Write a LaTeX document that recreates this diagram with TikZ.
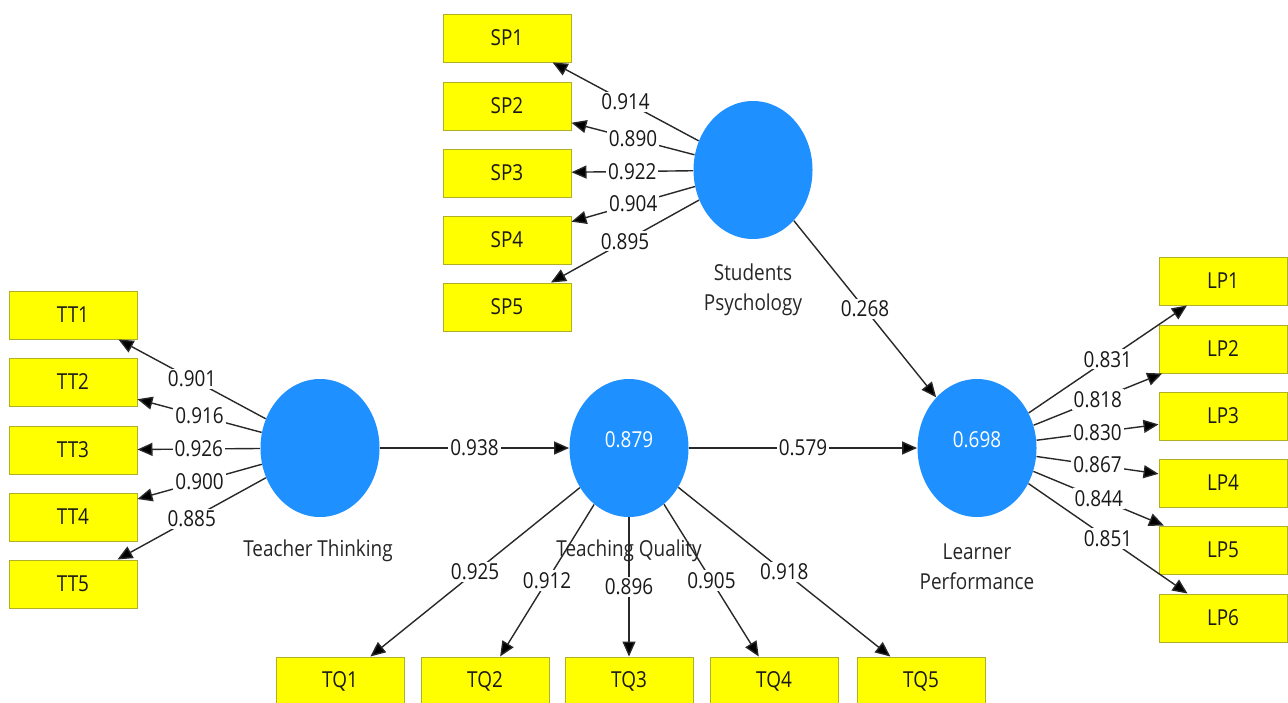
\documentclass[tikz,border=0pt]{standalone}
\usepackage{fontspec}
\setmainfont{Open Sans}[FakeStretch=0.86]
\usetikzlibrary{arrows.meta,shapes.geometric}

\definecolor{lvblue}{RGB}{30,144,255}
\definecolor{mvyellow}{RGB}{255,255,0}
\definecolor{mvedge}{RGB}{175,175,40}
\definecolor{pathgray}{RGB}{40,40,40}

\begin{document}
\begin{tikzpicture}[x=0.5pt, y=-0.5pt,
  lv/.style={ellipse, fill=lvblue, minimum width=59.5pt, minimum height=69pt, inner sep=0pt},
  mv/.style={rectangle, draw=mvedge, fill=mvyellow, line width=0.5pt,
    minimum width=64pt, minimum height=24pt, inner sep=0pt,
    text=black!90, font=\fontsize{11}{13}\selectfont},
  ld/.style={draw=pathgray, line width=0.7pt, -{Triangle[length=7.5pt,width=6.5pt,fill=black]}},
  wt/.style={midway, fill=white, inner sep=1pt, text=black!90, font=\fontsize{11}{13}\selectfont},
  lvname/.style={align=center, text=black!85, font=\fontsize{11}{15}\selectfont},
  rsq/.style={text=white, font=\fontsize{11}{13}\selectfont}]

  % 画布：1288 x 702 像素
  \fill[white] (0,0) rectangle (1288,702);
  \useasboundingbox (0,0) rectangle (1288,702);

  % 潜变量
  \node[lv] (TT) at (320, 448) {};
  \node[lv] (TQ) at (629, 448) {};
  \node[lv] (LP) at (977, 448) {};
  \node[lv] (SP) at (753, 170) {};

  \node[rsq] (TQr) at (629, 440) {0.879};
  \node[rsq] (LPr) at (977, 440) {0.698};

  \node[lvname] (TTname) at (318, 551) {Teacher Thinking};
  \node[lvname] (TQname) at (629, 551) {Teaching Quality};
  \node[lvname] (LPname) at (977, 567) {Learner\\Performance};
  \node[lvname] (SPname) at (753, 290) {Students\\Psychology};

  % 指标
  \node[mv] (SP1) at (507, 38)  {SP1};
  \node[mv] (SP2) at (507, 106) {SP2};
  \node[mv] (SP3) at (507, 173) {SP3};
  \node[mv] (SP4) at (507, 240) {SP4};
  \node[mv] (SP5) at (507, 307) {SP5};

  \node[mv] (TT1) at (73, 315) {TT1};
  \node[mv] (TT2) at (73, 382) {TT2};
  \node[mv] (TT3) at (73, 450) {TT3};
  \node[mv] (TT4) at (73, 517) {TT4};
  \node[mv] (TT5) at (73, 584) {TT5};

  \node[mv] (LP1) at (1223, 281) {LP1};
  \node[mv] (LP2) at (1223, 349) {LP2};
  \node[mv] (LP3) at (1223, 416) {LP3};
  \node[mv] (LP4) at (1223, 483) {LP4};
  \node[mv] (LP5) at (1223, 550) {LP5};
  \node[mv] (LP6) at (1223, 618) {LP6};

  \node[mv] (TQ1) at (340, 681) {TQ1};
  \node[mv] (TQ2) at (485, 681) {TQ2};
  \node[mv] (TQ3) at (629, 681) {TQ3};
  \node[mv] (TQ4) at (774, 681) {TQ4};
  \node[mv] (TQ5) at (921, 681) {TQ5};

  % 载荷
  \draw[ld] (SP) -- node[wt] {0.914} (SP1);
  \draw[ld] (SP) -- node[wt] {0.890} (SP2);
  \draw[ld] (SP) -- node[wt] {0.922} (SP3);
  \draw[ld] (SP) -- node[wt] {0.904} (SP4);
  \draw[ld] (SP) -- node[wt] {0.895} (SP5);

  \draw[ld] (TT) -- node[wt] {0.901} (TT1);
  \draw[ld] (TT) -- node[wt] {0.916} (TT2);
  \draw[ld] (TT) -- node[wt] {0.926} (TT3);
  \draw[ld] (TT) -- node[wt] {0.900} (TT4);
  \draw[ld] (TT) -- node[wt] {0.885} (TT5);

  \draw[ld] (LP) -- node[wt] {0.831} (LP1);
  \draw[ld] (LP) -- node[wt] {0.818} (LP2);
  \draw[ld] (LP) -- node[wt] {0.830} (LP3);
  \draw[ld] (LP) -- node[wt] {0.867} (LP4);
  \draw[ld] (LP) -- node[wt] {0.844} (LP5);
  \draw[ld] (LP) -- node[wt] {0.851} (LP6);

  \draw[ld] (TQ) -- node[wt] {0.925} (TQ1);
  \draw[ld] (TQ) -- node[wt] {0.912} (TQ2);
  \draw[ld] (TQ) -- node[wt] {0.896} (TQ3);
  \draw[ld] (TQ) -- node[wt] {0.905} (TQ4);
  \draw[ld] (TQ) -- node[wt] {0.918} (TQ5);

  % 路径系数
  \draw[ld] (TT) -- node[wt] {0.938} (TQ);
  \draw[ld] (TQ) -- node[wt] {0.579} (LP);
  \draw[ld] (SP) -- node[wt] {0.268} (LP);
\end{tikzpicture}
\end{document}
